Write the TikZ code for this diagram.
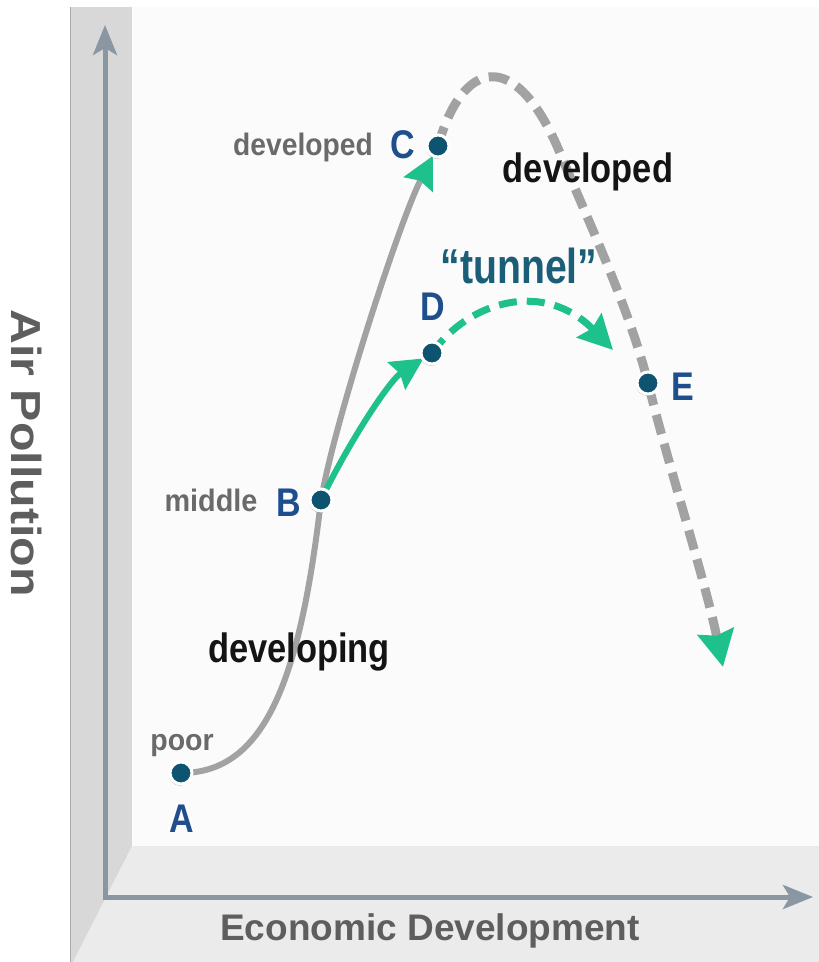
\documentclass[tikz,border=0pt]{standalone}
\usepackage{fontspec}
\setmainfont{Liberation Sans}
\usetikzlibrary{arrows.meta,shadows}
\definecolor{wallgray}{HTML}{D8D8D8}
\definecolor{walledge}{HTML}{ABABAB}
\definecolor{floorgray}{HTML}{EBEBEB}
\definecolor{planewhite}{HTML}{FBFBFB}
\definecolor{axisc}{HTML}{8A97A3}
\definecolor{curvegray}{HTML}{A2A2A2}
\definecolor{arrgreen}{HTML}{1EC08C}
\definecolor{dotc}{HTML}{0E5470}
\definecolor{lettc}{HTML}{1F4E8C}
\definecolor{labgray}{HTML}{6A6A6A}
\definecolor{tunc}{HTML}{1B5E77}
\definecolor{econc}{HTML}{5E5E5E}
\newcommand{\fs}[1]{\fontsize{#1}{#1}\selectfont\bfseries}
\tikzset{
  dotnode/.style={circle, fill=dotc, draw=white, line width=3pt, minimum size=22pt, inner sep=0pt,
    drop shadow={shadow xshift=-0.8pt, shadow yshift=-1.8pt, opacity=0.5}},
  letter/.style={anchor=base, text=lettc, inner sep=0pt, font=\fs{40}},
  graylab/.style={anchor=base, text=labgray, inner sep=0pt},
  blacklab/.style={anchor=base, text=black!92, inner sep=0pt},
  axisline/.style={draw=axisc, line width=5pt, -{Stealth[length=30pt,width=24pt,inset=7pt]}},
  graysolid/.style={draw=curvegray, line width=6pt},
  graydash/.style={draw=curvegray, line width=9pt, dash pattern=on 20pt off 10pt},
  greensolid/.style={draw=arrgreen, line width=6pt},
  greendash/.style={draw=arrgreen, line width=7pt, dash pattern=on 18pt off 10pt},
  gtip/.style={-{Stealth[length=#1,width=#1,inset=4pt,color=arrgreen]}}
}
\begin{document}
\begin{tikzpicture}[x=1pt,y=-1pt]
\useasboundingbox (0,0) rectangle (819,962);
% background
\fill[white] (0,0) rectangle (819,962);
\fill[wallgray] (70,7) rectangle (132,962);
\fill[planewhite] (132,7) rectangle (819,846);
\fill[floorgray] (132,846) -- (819,846) -- (819,962) -- (73,962) -- cycle;
\draw[walledge, line width=1.2pt] (70.5,7) -- (70.5,962);
% axes
\coordinate (O) at (105,897);
\coordinate (Ytip) at (105,25);
\coordinate (Xtip) at (813,897);
\draw[axisline] (105,900) -- (Ytip);
\draw[axisline] (O) -- (Xtip);
% axis labels
\node[anchor=base, text=econc, inner sep=0pt, font=\fs{37}] (xl) at (430,940) {Economic Development};
\node[anchor=base, text=econc, inner sep=0pt, font=\fs{42}, rotate=-90] (yl) at (12,453) {\scalebox{1.15}[1]{Air Pollution}};
% points
\coordinate (A) at (181,773);
\coordinate (B) at (321,500);
\coordinate (C) at (438,146);
\coordinate (D) at (432,353);
\coordinate (E) at (648,383);
\coordinate (Eend) at (723,667);
\coordinate (Dend) at (613,350);
% curves
\draw[graydash, gtip=36pt] (C) .. controls (462,60) and (515,45) .. (560,153)
   .. controls (587,218) and (630,310) .. (E)
   .. controls (670,471) and (705,580) .. (Eend);
\draw[greendash, gtip=34pt] (D) .. controls (470,300) and (545,280) .. (Dend);
\draw[graysolid, gtip=32pt, shorten >=11pt] (A) .. controls (265,773) and (300,680) .. (B)
   .. controls (335,420) and (400,220) .. (C);
\draw[greensolid, gtip=32pt, shorten >=10pt] (B) .. controls (350,440) and (390,380) .. (D);
% dots
\node[dotnode] (nA) at (A) {};
\node[dotnode] (nB) at (B) {};
\node[dotnode] (nC) at (C) {};
\node[dotnode] (nD) at (D) {};
\node[dotnode] (nE) at (E) {};
% letters
\node[letter] (lA) at (182,832) {\scalebox{0.85}[1]{A}};
\node[letter] (lB) at (289,516) {\scalebox{0.85}[1]{B}};
\node[letter] (lC) at (403,158) {\scalebox{0.85}[1]{C}};
\node[letter] (lD) at (433,320) {\scalebox{0.85}[1]{D}};
\node[letter] (lE) at (683,400) {\scalebox{0.85}[1]{E}};
% labels
\node[graylab, font=\fs{30}] (poor) at (182,750) {\scalebox{0.95}[1]{poor}};
\node[graylab, font=\fs{31}] (mid) at (211,511) {\scalebox{0.93}[1]{middle}};
\node[graylab, font=\fs{31}] (devd1) at (303,155) {\scalebox{0.91}[1]{developed}};
\node[blacklab, font=\fs{41}] (devd2) at (588,182) {\scalebox{0.84}[1]{developed}};
\node[blacklab, font=\fs{41}] (devg) at (299,662) {\scalebox{0.84}[1]{developing}};
\node[anchor=base, text=tunc, inner sep=0pt, font=\fs{49}] (tun) at (519,283) {\scalebox{0.8}[1]{“tunnel”}};
\end{tikzpicture}
\end{document}
